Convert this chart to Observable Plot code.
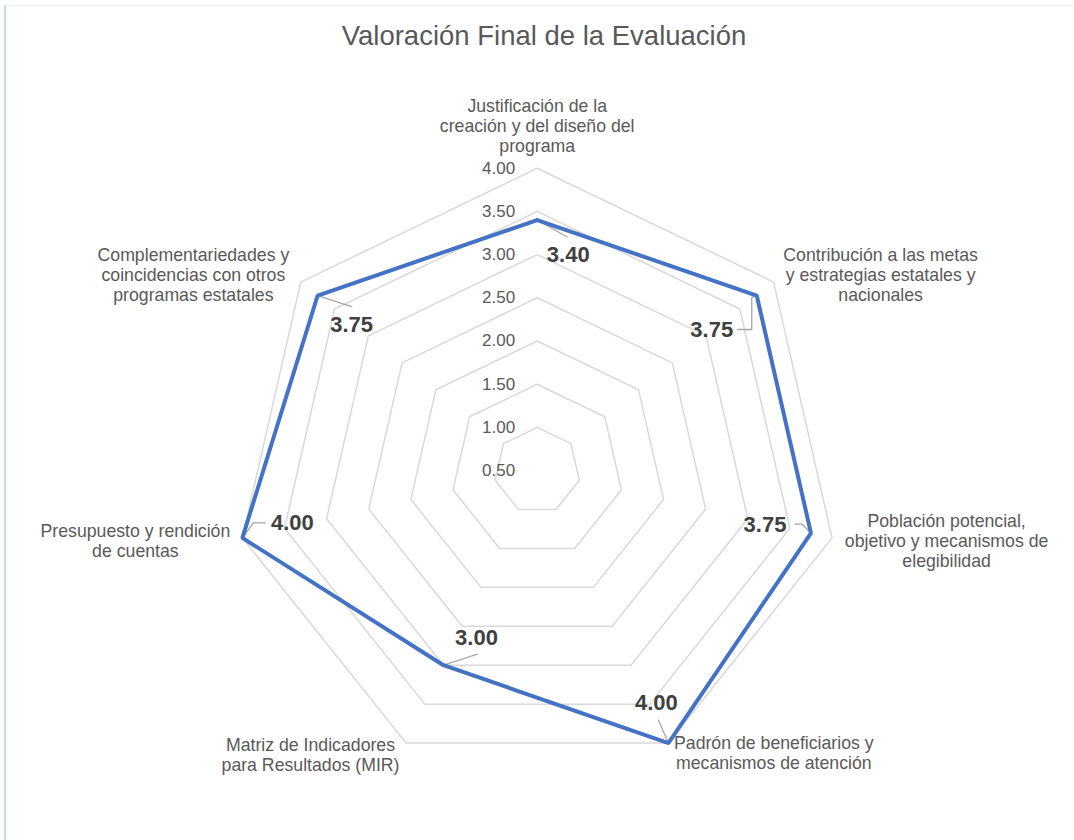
<!DOCTYPE html>
<html>
<head>
<meta charset="utf-8">
<script src="https://cdn.jsdelivr.net/npm/d3@7"></script>
<script src="https://cdn.jsdelivr.net/npm/@observablehq/plot@0.6"></script>
<style>
  html, body { margin: 0; padding: 0; background: #fff; }
  #wrap { position: relative; width: 1074px; height: 840px; overflow: hidden; font-family: "Liberation Sans", Arial, sans-serif; }
  #frame { position: absolute; left: 4px; top: 5px; width: 1080px; height: 850px; border-left: 2px solid #c9d5ef; border-top: 1px solid #eceff8; box-sizing: border-box; }
  #title { position: absolute; left: 7px; top: 22px; width: 1074px; text-align: center; font-size: 27.5px; line-height: 1; color: #595959; }
  #chart { position: absolute; left: 0; top: 0; }
</style>
</head>
<body>
<div id="wrap">
  <div id="frame"></div>
  <div id="chart"></div>
  <div id="title">Valoración Final de la Evaluación</div>
</div>
<script>
// ---- data ----
const categories = [
  "Justificación de la\ncreación y del diseño del\nprograma",
  "Contribución a las metas\ny estrategias estatales y\nnacionales",
  "Población potencial,\nobjetivo y mecanismos de\nelegibilidad",
  "Padrón de beneficiarios y\nmecanismos de atención",
  "Matriz de Indicadores\npara Resultados (MIR)",
  "Presupuesto y rendición\nde cuentas",
  "Complementariedades y\ncoincidencias con otros\nprogramas estatales"
];
const values = [3.40, 3.75, 3.75, 4.00, 3.00, 4.00, 3.75];
const tickValues = [0.5, 1.0, 1.5, 2.0, 2.5, 3.0, 3.5, 4.0];
const tickLabels = ["0.50", "1.00", "1.50", "2.00", "2.50", "3.00", "3.50", "4.00"];
const axisMin = 0.5, axisMax = 4.0;

// ---- layout (pixels) ----
const W = 1074, H = 840, CX = 536.7, CY = 470.1, R = 302.4;
const K = R / (axisMax - axisMin); // px per value unit
// category label block offsets from outer vertex
const catOffsets = [[0, -43], [107, -7], [114.6, 3], [105.4, 10], [-95.5, 11.5], [-107, 3], [-107.4, -7.6]];
// data label offsets from data vertex
const valOffsets = [[31, 35], [-45, 34], [-46, -8], [-12, -40], [33, -27], [50, -15], [34, 29]];
// leader polylines (offsets from data vertex)
const leaders = [
  [[0, 0], [30, 17]],
  [[0, 0], [-5, 2], [-5, 34], [-19, 34]],
  [[0, 0], [-9, -9], [-16, -9]],
  [[0, 0], [-10, -23]],
  [[0, 0], [34, -11]],
  [[0, 0], [11, -15], [23, -15]],
  [[0, 0], [34, 11]]
];

const n = categories.length;
const ang = i => 2 * Math.PI * i / n;
const pos = (v, i) => ({x: (v - axisMin) * Math.sin(ang(i)), y: (v - axisMin) * Math.cos(ang(i))});
const off = (p, o) => ({x: p.x + o[0] / K, y: p.y - o[1] / K});

const rings = [];
tickValues.filter(t => t > axisMin).forEach(t => {
  for (let i = 0; i <= n; i++) rings.push({ring: t, ...pos(t, i % n)});
});
const series = [];
for (let i = 0; i <= n; i++) series.push(pos(values[i % n], i % n));

const leaderPts = [];
leaders.forEach((pl, i) => pl.forEach(o => leaderPts.push({id: i, ...off(pos(values[i], i), o)})));

const valLabels = values.map((v, i) => ({text: d3.format(".2f")(v), ...off(pos(v, i), valOffsets[i])}));
const catLabels = categories.map((c, i) => ({text: c, ...off(pos(axisMax, i), catOffsets[i])}));
const ticks = tickValues.map((t, i) => ({text: tickLabels[i], x: 0, y: t - axisMin}));

const chart = Plot.plot({
  width: W, height: H, margin: 0,
  style: {fontFamily: '"Liberation Sans", Arial, sans-serif', background: "transparent", overflow: "visible"},
  x: {domain: [-CX / K, (W - CX) / K], axis: null},
  y: {domain: [(CY - H) / K, CY / K], axis: null},
  marks: [
    Plot.line(rings, {x: "x", y: "y", z: "ring", stroke: "#d9d9d9", strokeWidth: 1.5}),
    Plot.text(ticks, {x: "x", y: "y", text: "text", textAnchor: "end", dx: -22, fontSize: 17, fill: "#595959"}),
    Plot.line(leaderPts, {x: "x", y: "y", z: "id", stroke: "#a6a6a6", strokeWidth: 1.3}),
    Plot.line(series, {x: "x", y: "y", stroke: "#4472C4", strokeWidth: 4, strokeLinejoin: "miter"}),
    Plot.text(valLabels, {x: "x", y: "y", text: "text", fontSize: 22, fontWeight: "bold", fill: "#404040"}),
    Plot.text(catLabels, {x: "x", y: "y", text: "text", fontSize: 17.7, lineHeight: 1.13, fill: "#595959", textAnchor: "middle"})
  ]
});
document.getElementById("chart").appendChild(chart);
</script>
</body>
</html>
